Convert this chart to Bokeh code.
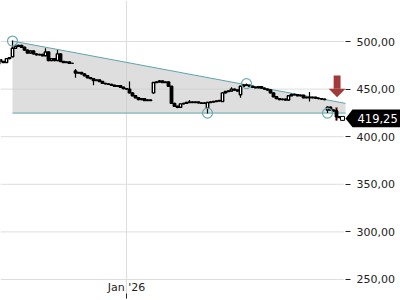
from bokeh.plotting import figure
from bokeh.models import FixedTicker, Range1d, ColumnDataSource
from bokeh.core.properties import value
from bokeh.embed import file_html
from bokeh.resources import INLINE

# ---- data (price bars, index = bar number) ----
opens = [481, 479, 478, 482, 484, 493, 495, 496, 494, 491,
         488, 490, 487, 486, 486.5, 485, 489, 480, 482, 480,
         487, 479, 478, 478.5, 477, 469, 467, 467.5, 466, 464,
         462, 461, 459, 459.5, 458, 456, 455.5, 455, 454, 453,
         453.5, 452, 450.5, 450, 446, 443, 441, 439, 440, 438,
         438.5, 446, 457, 457.5, 458.5, 457, 457.5, 453, 435, 432,
         431, 434.5, 435, 436, 436.5, 436, 436.5, 435.5, 435, 430,
         436, 436.5, 437, 437.5, 437, 446, 447.5, 448, 450, 449,
         444, 453, 454.5, 454, 453, 452, 451.5, 452.5, 451, 450,
         449, 446, 442, 440, 439, 439.5, 438.5, 443, 444.5, 444,
         443, 443.5, 441, 441.5, 441, 441.5, 440.5, 440, 439.5, 428,
         431, 428, 427, 421, 420]
closes = [479, 478, 482, 483, 493, 495, 496, 494, 491, 488,
          490, 487, 486, 486.5, 485, 489, 480, 482, 480, 487,
          479, 478, 478.5, 477, 477, 467, 467.5, 466, 464, 462,
          461, 459, 459.5, 458, 456, 455.5, 455, 454, 453, 453.5,
          452, 450.5, 450, 446, 443, 441, 439, 440, 438, 438.5,
          438, 457, 457.5, 458.5, 457, 457.5, 453, 435, 432, 431,
          434.5, 435, 436, 436.5, 436, 436.5, 435.5, 435, 435.5, 436,
          436.5, 437, 437.5, 438, 446, 447.5, 448, 450, 449, 448,
          453, 454.5, 454, 453, 452, 451.5, 452.5, 451, 450, 449,
          446, 442, 440, 439, 439.5, 438.5, 443, 444.5, 444, 443,
          443.5, 441, 441.5, 441, 441.5, 440.5, 440, 439.5, 439, 431,
          428, 427, 421, 420, 419.25]
wick_high = {4: 501, 5: 497, 15: 493, 19: 491, 25: 471, 43: 458, 53: 459.5,
             57: 450, 63: 438.5, 77: 452, 82: 456, 103: 447, 109: 432, 112: 430}
wick_low = {0: 476, 25: 462, 31: 454, 51: 445, 59: 430, 69: 424.5, 80: 441,
            103: 437, 109: 425, 112: 417}

# pivots of the falling wedge
pivot_idx = [4, 69, 82, 109]
pivot_price = [500.5, 424.8, 455.8, 424.8]
wedge_top = [(4, 500.5), (115, 435)]
wedge_bottom = [(4, 424.8), (115, 424.8)]

# signal
signal_idx = 112.2
signal_bar = (417, 431)
arrow_top, arrow_base, arrow_tip = 464.3, 450.3, 441.5

last_price = 419.25
last_label = "419,25"

y_ticks = [250, 300, 350, 400, 450, 500]
y_tick_labels = ["250,00", "300,00", "350,00", "400,00", "450,00", "500,00"]
x_ticks = [42]
x_tick_labels = ["Jan '26"]

# ---- layout constants ----
BAR_PX = 3.0
PLOT_END = 115            # last plotted slot (price area edge)
X_END = 400 / BAR_PX      # full canvas width in bar units
PX_PER_PRICE = 0.952

# ---- build ----
n = len(closes)
idx = list(range(n))
highs = [max(o, c, wick_high.get(i, max(o, c) + 0.6)) for i, (o, c) in enumerate(zip(opens, closes))]
lows = [min(o, c, wick_low.get(i, min(o, c) - 0.6)) for i, (o, c) in enumerate(zip(opens, closes))]
fills = ["white" if c >= o else "black" for o, c in zip(opens, closes)]
src = ColumnDataSource(dict(x=idx, o=opens, c=closes, h=highs, l=lows, f=fills,
                            top=[max(o, c) for o, c in zip(opens, closes)],
                            bot=[min(o, c) for o, c in zip(opens, closes)]))

p = figure(frame_width=400, frame_height=298, output_backend="svg", toolbar_location=None,
           x_range=Range1d(0, X_END), y_range=Range1d(230.0, 543.1),
           y_axis_location="right", min_border_left=0, min_border_top=0,
           min_border_right=0, min_border_bottom=2)
p.outline_line_color = None
p.background_fill_color = "white"
p.border_fill_color = "white"

# grid
p.xgrid.ticker = FixedTicker(ticks=x_ticks)
p.xgrid.grid_line_color = "#dddddd"
p.ygrid.visible = False
p.segment(x0=[0] * len(y_ticks), x1=[PLOT_END - 0.6] * len(y_ticks), y0=y_ticks, y1=y_ticks,
          line_color="#dddddd", line_width=1)

# wedge
p.patch([wedge_top[0][0], wedge_top[1][0], wedge_bottom[1][0], wedge_bottom[0][0]],
        [wedge_top[0][1], wedge_top[1][1], wedge_bottom[1][1], wedge_bottom[0][1]],
        fill_color="#c8c8c8", fill_alpha=0.6, line_color=None)
p.line([wedge_top[0][0], wedge_top[1][0]], [wedge_top[0][1], wedge_top[1][1]],
       line_color="#5ea5ac", line_width=1)
p.line([wedge_bottom[0][0], wedge_bottom[1][0]], [wedge_bottom[0][1], wedge_bottom[1][1]],
       line_color="#5ea5ac", line_width=1)

# signal candle highlight
p.vbar(x=[112], width=0.8, top=[signal_bar[1]], bottom=[signal_bar[0]],
       fill_color="#b03a3a", line_color=None)

# candles
p.segment(x0="x", y0="h", x1="x", y1="l", source=src, line_color="black", line_width=1.2)
p.vbar(x="x", width=0.8, top="top", bottom="bot", fill_color="f", line_color="black",
       line_width=1.4, source=src)

# pivots
p.scatter(pivot_idx, pivot_price, size=10, marker="circle", fill_color=None,
          line_color="#6aa9b0", line_width=1.2)

# arrow
p.vbar(x=[signal_idx], width=2.3, top=[arrow_top], bottom=[arrow_base],
       fill_color="#a23a3a", line_color=None)
p.patch([signal_idx - 2.8, signal_idx + 2.8, signal_idx], [arrow_base, arrow_base, arrow_tip],
        fill_color="#a23a3a", line_color=None)

# last price tag
half_h = 9 / PX_PER_PRICE
tip_w = 7 / BAR_PX
p.patch([PLOT_END, PLOT_END + tip_w, X_END, X_END, PLOT_END + tip_w],
        [last_price, last_price + half_h, last_price + half_h, last_price - half_h, last_price - half_h],
        fill_color="black", line_color=None)
p.text(x=[PLOT_END + 12 / BAR_PX], y=[last_price], text=[last_label], text_color="white",
       text_font=value("DejaVu Sans"), text_font_size="11.5px", text_baseline="middle",
       text_align="left")
p.scatter([114], [last_price], size=4, marker="square", fill_color="white", line_color="black")

# axes
ya = p.yaxis[0]
ya.ticker = FixedTicker(ticks=y_ticks)
ya.major_label_overrides = dict(zip(y_ticks, y_tick_labels))
ya.axis_line_color = None
ya.major_tick_in = 55
ya.major_tick_out = -50
ya.major_tick_line_color = "#222222"
ya.minor_tick_line_color = None
ya.major_label_standoff = -44
ya.major_label_text_font = "DejaVu Sans"
ya.major_label_text_font_size = "11px"
ya.major_label_text_color = "#222222"

xa = p.xaxis[0]
xa.ticker = FixedTicker(ticks=x_ticks)
xa.major_label_overrides = dict(zip(x_ticks, x_tick_labels))
xa.axis_line_color = None
xa.major_tick_in = 5
xa.major_tick_out = 0
xa.major_tick_line_color = "#222222"
xa.minor_tick_line_color = None
xa.major_label_standoff = -18
xa.major_label_text_font = "DejaVu Sans"
xa.major_label_text_font_size = "11px"
xa.major_label_text_color = "#222222"

open("out.html", "w").write(file_html(p, INLINE))
